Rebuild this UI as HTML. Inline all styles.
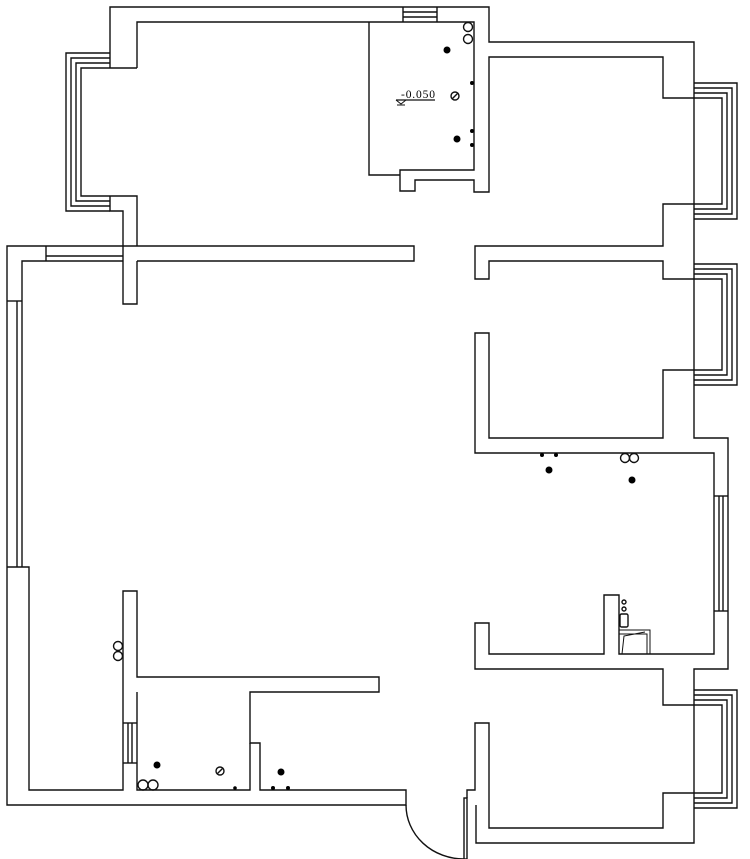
<!DOCTYPE html>
<html><head><meta charset="utf-8"><style>
html,body{margin:0;padding:0;background:#fff;}
svg{display:block;}
</style></head><body>
<svg width="750" height="859" viewBox="0 0 750 859" xmlns="http://www.w3.org/2000/svg">
<g fill="none" stroke="#111" stroke-width="1.4">
<polyline points="110,68 110,7 489,7 489,42 694,42 694,438 728,438 728,669 694,669 694,843 476,843 476,805"/>
<polyline points="137,68 137,22 474,22 474,170 400,170 400,191 415,191 415,180 474,180 474,192 489,192 489,57 663,57 663,98 694,98"/>
<polyline points="110,68 137,68"/>
<polyline points="369,22 369,175 400,175"/>
<line x1="403" y1="7" x2="403" y2="22"/><line x1="437" y1="7" x2="437" y2="22"/>
<line x1="403" y1="12" x2="437" y2="12"/><line x1="403" y1="17" x2="437" y2="17"/>
<polyline points="110,53 66,53 66,211 110,211"/>
<polyline points="110,58 71,58 71,206 110,206"/>
<polyline points="110,63 76,63 76,201 110,201"/>
<polyline points="110,68 81,68 81,196 137,196 137,246"/>
<polyline points="110,196 110,211 123,211 123,304 137,304 137,261"/>
<polyline points="694,83 737,83 737,219 694,219"/>
<polyline points="694,88 732,88 732,214 694,214"/>
<polyline points="694,93 727,93 727,209 694,209"/>
<polyline points="694,98 722,98 722,204 663,204 663,246 475,246 475,279 489,279 489,261 663,261 663,279 694,279"/>
<polyline points="694,264 737,264 737,385 694,385"/>
<polyline points="694,269 732,269 732,380 694,380"/>
<polyline points="694,274 727,274 727,375 694,375"/>
<polyline points="694,279 722,279 722,370 663,370 663,438 489,438 489,333 475,333 475,453 714,453 714,654 619,654 619,595 604,595 604,654 489,654 489,623 475,623 475,669 663,669 663,705 694,705"/>
<line x1="714" y1="496" x2="728" y2="496"/><line x1="714" y1="611" x2="728" y2="611"/>
<line x1="719" y1="496" x2="719" y2="611"/><line x1="723" y1="496" x2="723" y2="611"/>
<polyline points="694,690 737,690 737,808 694,808"/>
<polyline points="694,695 732,695 732,803 694,803"/>
<polyline points="694,700 727,700 727,798 694,798"/>
<polyline points="694,705 722,705 722,793 663,793 663,828 489,828 489,723 475,723 475,790 467,790 467,798"/>
<rect x="464" y="798" width="3" height="61"/>
<path d="M406,805 A58,54 0 0 0 464,859"/>
<polyline points="123,246 7,246 7,805 406,805 406,790 260,790 260,743 250,743 250,692 379,692 379,677 137,677 137,591 123,591 123,790 29,790 29,567 7,567"/>
<polyline points="123,246 414,246 414,261 137,261"/>
<polyline points="22,301 22,261 123,261"/>
<line x1="46" y1="246" x2="46" y2="261"/><line x1="46" y1="256" x2="123" y2="256"/>
<line x1="7" y1="301" x2="22" y2="301"/>
<line x1="17" y1="301" x2="17" y2="567"/><line x1="22" y1="301" x2="22" y2="567"/>
<polyline points="137,692 137,790 250,790 250,743"/>
<line x1="123" y1="723" x2="137" y2="723"/><line x1="123" y1="763" x2="137" y2="763"/>
<line x1="128" y1="723" x2="128" y2="763"/><line x1="132" y1="723" x2="132" y2="763"/>
<circle cx="468" cy="27" r="4.5"/><circle cx="468" cy="39" r="4.5"/>
<circle cx="118" cy="646" r="4.5"/><circle cx="118" cy="656" r="4.5"/>
<circle cx="143" cy="785" r="5"/><circle cx="153" cy="785" r="5"/>
<circle cx="625" cy="458" r="4.5"/><circle cx="634" cy="458" r="4.5"/>
<circle cx="455" cy="96" r="4"/><line x1="452" y1="99" x2="458" y2="93"/>
<circle cx="220" cy="771" r="4"/><line x1="217" y1="774" x2="223" y2="768"/>
<circle cx="624" cy="602" r="2"/><circle cx="624" cy="609" r="2"/>
<rect x="620" y="614" width="8" height="13" rx="1.5"/>
<polyline points="619,630 650,630 650,654" stroke-width="1"/>
<polyline points="619,634 647,634 647,654" stroke-width="1"/>
<polyline points="622,654 624,636 645,632" stroke-width="1"/>
<line x1="396" y1="100" x2="435" y2="100" stroke-width="1.2"/>
<polyline points="396,100 401,104 406,100" stroke-width="1"/>
<line x1="397" y1="105" x2="405" y2="105" stroke-width="1"/>
</g>
<g fill="#000">
<circle cx="447" cy="50" r="3.5"/><circle cx="472" cy="83" r="2"/>
<circle cx="457" cy="139" r="3.5"/><circle cx="472" cy="131" r="2"/><circle cx="472" cy="145" r="2"/>
<circle cx="157" cy="765" r="3.5"/><circle cx="235" cy="788" r="1.8"/>
<circle cx="281" cy="772" r="3.5"/><circle cx="273" cy="788" r="2"/><circle cx="288" cy="788" r="2"/>
<circle cx="542" cy="455" r="2"/><circle cx="556" cy="455" r="2"/><circle cx="549" cy="470" r="3.5"/>
<circle cx="632" cy="480" r="3.5"/>
</g>
<text x="401" y="98" font-family="Liberation Serif, serif" font-size="11.5" fill="#000" textLength="34">-0.050</text>
</svg>
</body></html>
